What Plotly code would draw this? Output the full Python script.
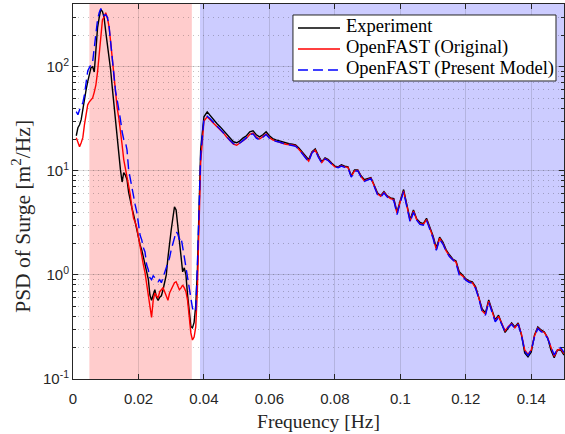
import numpy as np
import plotly.graph_objects as go

# Frequency grids [Hz]
freq_low = np.round(np.arange(0.001, 0.03751, 0.0005), 4)
freq_high = np.round(np.arange(0.038, 0.15001, 0.001), 3)

# PSD of surge [m^2/Hz], low-frequency part (0.001 - 0.0375 Hz)
exp_low = [21.7, 25.9, 27.7, 31, 38.6, 50, 60, 72, 85, 98, 100, 89, 145, 237, 296, 355,
           338, 296, 217, 163, 130, 93, 63, 43, 31, 22, 15.9, 10.2, 7.8, 9.6, 9.1, 8.2,
           6.2, 5.0, 4.4, 3.8, 3.2, 2.7, 2.3, 1.94, 1.74, 1.49, 1.33, 1.12, 0.91, 0.64,
           0.57, 0.64, 0.72, 0.61, 0.57, 0.61, 0.63, 0.72, 0.86, 1.0, 1.46, 2.17, 2.7,
           3.5, 4.5, 4.2, 3.0, 1.94, 1.33, 1.07, 1.17, 1.0, 0.64, 0.41, 0.32, 0.31,
           0.35, 0.51]
orig_low = [20.8, 18.6, 17, 18.6, 20.8, 27.7, 36.8, 43, 46, 48, 50, 57, 67, 89, 139, 203,
            282, 300, 330, 296, 243, 173, 116, 78, 51, 40, 32, 24.8, 17.8, 12.8, 10.7,
            9.1, 7.6, 5.9, 4.4, 3.5, 3.2, 2.83, 2.3, 1.82, 1.56, 1.25, 1.05, 0.8, 0.64,
            0.46, 0.39, 0.57, 0.67, 0.63, 0.6, 0.69, 0.72, 0.75, 0.69, 0.61, 0.57, 0.67,
            0.72, 0.77, 0.84, 0.86, 0.77, 0.72, 0.75, 0.8, 0.75, 0.69, 0.57, 0.37, 0.277,
            0.237, 0.253, 0.316]
pres_low = [37, 34.5, 38.6, 42, 45, 54, 72, 91, 98, 105, 111, 152, 217, 283, 330, 362,
            330, 309, 316, 296, 248, 173, 116, 82, 58, 48, 40, 31, 23.7, 20, 19, 15.9,
            10.2, 8.2, 6.9, 5.5, 4.7, 4.0, 3.2, 2.4, 2.17, 1.82, 1.66, 1.25, 1.12, 0.94,
            0.9, 0.98, 0.94, 0.9, 0.86, 0.9, 0.84, 0.94, 1.05, 1.12, 1.28, 1.46, 1.74,
            1.94, 2.27, 2.6, 2.48, 2.17, 2.3, 1.86, 1.46, 1.17, 0.94, 0.75, 0.57, 0.48,
            0.44, 0.46]

# PSD of surge [m^2/Hz], wave-frequency part (0.038 - 0.150 Hz)
exp_high = [1.1, 16, 33, 36.8, 33.8, 30.4, 28.3, 26.4, 24.2, 22.2, 20.4, 19, 18.6, 19.4,
            20.7, 21.7, 23.7, 24.2, 22.2, 21.2, 22.2, 23.7, 21.7, 20.4, 19.8, 19.4, 18.8,
            18.4, 18.2, 18.0, 17.7, 16.6, 15.2, 13.9, 12.8, 15.2, 16.2, 13.9, 12.2, 13.3,
            12.8, 11.9, 11.1, 10.9, 11.4, 11.1, 10.9, 8.95, 10.2, 10.2, 8.95, 8.2, 8.4,
            8.6, 7.3, 6.15, 5.75, 6.3, 5.75, 5.5, 5.4, 4.0, 5.2, 6.6, 4.7, 3.4, 4.2, 3.45,
            3.2, 3.1, 3.5, 2.9, 2.37, 1.82, 2.3, 2.07, 1.74, 1.56, 1.42, 1.36, 1.07, 1.0,
            0.915, 0.875, 0.857, 0.77, 0.61, 0.47, 0.43, 0.575, 0.46, 0.37, 0.41, 0.34,
            0.28, 0.31, 0.345, 0.316, 0.345, 0.265, 0.178, 0.163, 0.182, 0.265, 0.316,
            0.296, 0.283, 0.248, 0.19, 0.16, 0.19, 0.19, 0.17]
orig_high = [0.72, 12, 30, 33, 31, 28.5, 26.5, 24.8, 23, 21, 19.3, 18, 17.6, 18.6, 19.8,
             20.5, 22.4, 23, 21, 20.2, 21.3, 22.6, 20.8, 19.8, 19.3, 19.0, 18.4, 18.0,
             17.9, 17.7, 17.4, 16.2, 14.8, 13.5, 12.4, 15.0, 15.8, 13.6, 12.0, 13.1, 12.6,
             11.7, 10.9, 10.8, 11.2, 10.9, 10.8, 8.8, 10.0, 10.1, 8.8, 8.0, 8.3, 8.5, 7.2,
             6.0, 5.7, 6.2, 5.7, 5.4, 5.3, 3.9, 5.1, 6.4, 4.6, 3.3, 4.1, 3.4, 3.1, 3.05,
             3.4, 2.8, 2.3, 1.75, 2.25, 2.0, 1.7, 1.52, 1.4, 1.33, 1.03, 0.98, 0.9, 0.86,
             0.84, 0.75, 0.6, 0.45, 0.42, 0.56, 0.45, 0.36, 0.40, 0.335, 0.29, 0.32, 0.34,
             0.31, 0.34, 0.27, 0.19, 0.172, 0.19, 0.26, 0.31, 0.29, 0.28, 0.25, 0.2, 0.165,
             0.19, 0.195, 0.175]
pres_high = [1.25, 14, 31, 33.5, 31.5, 28.8, 26.8, 25, 23.2, 21.2, 19.5, 18.2, 17.8, 18.5,
             19.6, 20.8, 22.2, 22.6, 20.6, 19.8, 21.0, 22.3, 20.6, 19.7, 19.2, 18.9, 18.3,
             18.0, 17.8, 17.6, 17.2, 16.0, 14.6, 13.3, 12.2, 14.8, 15.9, 13.4, 11.9, 13.0,
             12.5, 11.6, 10.9, 10.7, 11.1, 10.8, 10.7, 8.7, 9.9, 10.0, 8.7, 7.9, 8.2, 8.4,
             7.1, 5.9, 5.6, 6.1, 5.6, 5.3, 5.2, 3.8, 5.0, 6.3, 4.5, 3.2, 4.0, 3.35, 3.05,
             3.0, 3.35, 2.75, 2.25, 1.72, 2.2, 1.98, 1.68, 1.5, 1.38, 1.3, 1.0, 0.97, 0.89,
             0.85, 0.83, 0.74, 0.59, 0.44, 0.41, 0.55, 0.44, 0.355, 0.39, 0.33, 0.285,
             0.315, 0.335, 0.305, 0.335, 0.265, 0.185, 0.168, 0.19, 0.255, 0.305, 0.285,
             0.275, 0.245, 0.2, 0.17, 0.195, 0.2, 0.18]

for arr in (exp_low, orig_low, pres_low):
    assert len(arr) == len(freq_low), len(arr)
for arr in (exp_high, orig_high, pres_high):
    assert len(arr) == len(freq_high), len(arr)

freq = np.concatenate([freq_low, freq_high])
series_names = ["Experiment", "OpenFAST (Original)", "OpenFAST (Present Model)"]
series_vals = [np.concatenate([exp_low, exp_high]),
               np.concatenate([orig_low, orig_high]),
               np.concatenate([pres_low, pres_high])]

# Frequency bands: low-frequency (slow drift) and wave-frequency
lf_band = (0.005, 0.0363)
wf_band = (0.0388, 0.15)

x_ticks = [0, 0.02, 0.04, 0.06, 0.08, 0.1, 0.12, 0.14]
y_ticks = [0.1, 1, 10, 100]
y_ticktext = ["10<sup>-1</sup>", "10<sup>0</sup>", "10<sup>1</sup>", "10<sup>2</sup>"]

axis_col = "#262626"
serif = "Liberation Serif, Times New Roman, serif"
sans = "Liberation Sans, Arial, sans-serif"

line_styles = [
    dict(color="black", width=1.4),
    dict(color="#ff0000", width=1.4),
    dict(color="#0000ff", width=1.4, dash="10px,5px"),
]

fig = go.Figure()
for name, vals, style in zip(series_names, series_vals, line_styles):
    fig.add_trace(go.Scatter(x=freq, y=vals, mode="lines", name=name, line=style,
                             showlegend=False))

fig.add_shape(type="rect", xref="x", yref="paper", x0=lf_band[0], x1=lf_band[1],
              y0=0, y1=1, fillcolor="#ffcccc", line_width=0, layer="below")
fig.add_shape(type="rect", xref="x", yref="paper", x0=wf_band[0], x1=wf_band[1],
              y0=0, y1=1, fillcolor="#ccccff", line_width=0, layer="below")

# Legend box in the upper-right corner of the axes
leg_x0, leg_x1, leg_y0, leg_y1 = 0.448, 0.9837, 0.7947, 0.9707
sample_x0, sample_x1, text_x = 0.4582, 0.5438, 0.5519
row_y = [0.936, 0.880, 0.824]
fig.add_shape(type="rect", xref="paper", yref="paper", x0=leg_x0, x1=leg_x1,
              y0=leg_y0, y1=leg_y1, fillcolor="white",
              line=dict(color=axis_col, width=1), layer="above")
for name, style, ry in zip(series_names, line_styles, row_y):
    fig.add_shape(type="line", xref="paper", yref="paper", x0=sample_x0, x1=sample_x1,
                  y0=ry, y1=ry, line=style, layer="above")
    fig.add_annotation(xref="paper", yref="paper", x=text_x, y=ry + 0.004, text=name,
                       showarrow=False, xanchor="left", yanchor="middle",
                       font=dict(family=serif, size=18.5, color="black"))

# Vertical axis label
fig.add_annotation(xref="paper", yref="paper", x=-0.104, y=0.435,
                   text="PSD of Surge [m<sup>2</sup>/Hz]", textangle=-90,
                   showarrow=False, xanchor="center", yanchor="middle",
                   font=dict(family=serif, size=21.5, color=axis_col))

fig.update_xaxes(
    range=[0, 0.15], tickvals=x_ticks, ticks="inside", ticklen=5,
    tickcolor=axis_col, showline=True, linecolor=axis_col, linewidth=1,
    mirror="ticks", showgrid=True, gridcolor="rgba(38,38,38,0.15)", gridwidth=1,
    zeroline=False, tickfont=dict(family=sans, size=15, color=axis_col),
    ticklabelstandoff=6, automargin=False,
    title=dict(text="Frequency [Hz]", font=dict(family=serif, size=19.5, color=axis_col),
               standoff=8),
)
fig.update_yaxes(
    type="log", range=[-1, np.log10(400)], tickvals=y_ticks, ticktext=y_ticktext,
    ticks="inside", ticklen=5, tickcolor=axis_col, showline=True, linecolor=axis_col,
    linewidth=1, mirror="ticks", showgrid=True, gridcolor="rgba(38,38,38,0.15)",
    zeroline=False, tickfont=dict(family=sans, size=15, color=axis_col),
    automargin=False,
    minor=dict(ticks="inside", ticklen=3, tickcolor=axis_col, showgrid=True,
               gridcolor="rgba(38,38,38,0.28)", griddash="1px,4px", dtick="D1"),
)

fig.update_layout(
    width=565, height=434, margin=dict(l=73, r=1, t=4, b=55),
    plot_bgcolor="white", paper_bgcolor="white", showlegend=False,
)

fig.write_html("out.html")
